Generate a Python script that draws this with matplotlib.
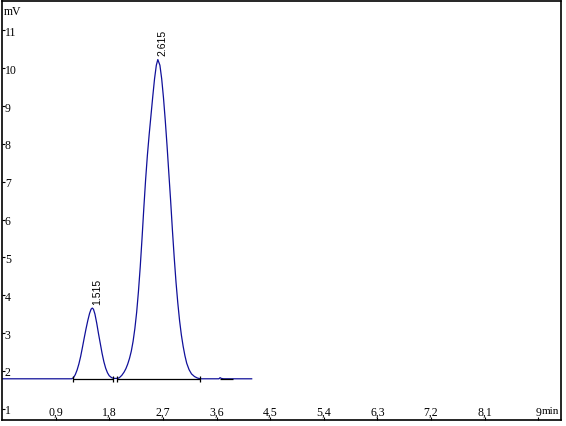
import matplotlib
matplotlib.use("Agg")
import matplotlib.pyplot as plt

# ─── chromatogram trace (min, mV) ────────────────────────────────────────────
time_min = [
    0.00, 1.17, 1.20, 1.23, 1.26, 1.29, 1.32, 1.35, 1.38, 1.41, 1.44, 1.47,
    1.495, 1.515, 1.535, 1.56, 1.59, 1.62, 1.65, 1.68, 1.71, 1.74, 1.77, 1.80,
    1.84, 1.88, 1.94, 1.97, 2.01, 2.05, 2.08, 2.11, 2.14, 2.17, 2.20, 2.23,
    2.26, 2.29, 2.32, 2.35, 2.38, 2.41, 2.44, 2.47, 2.50, 2.53, 2.56, 2.59,
    2.615, 2.65, 2.68, 2.71, 2.74, 2.77, 2.80, 2.83, 2.86, 2.89, 2.92, 2.95,
    2.98, 3.01, 3.04, 3.07, 3.10, 3.14, 3.18, 3.23, 3.28, 3.33, 3.64, 3.66,
    3.68, 3.72, 4.19,
]
signal_mv = [
    1.79, 1.79, 1.82, 1.90, 2.02, 2.18, 2.38, 2.62, 2.87, 3.11, 3.33, 3.52,
    3.63, 3.66, 3.63, 3.50, 3.26, 2.98, 2.72, 2.46, 2.24, 2.07, 1.95, 1.87,
    1.82, 1.80, 1.80, 1.82, 1.88, 1.97, 2.06, 2.18, 2.33, 2.52, 2.78, 3.12,
    3.55, 4.10, 4.75, 5.50, 6.30, 7.05, 7.70, 8.25, 8.75, 9.25, 9.72, 10.08,
    10.23, 10.08, 9.72, 9.22, 8.62, 7.95, 7.22, 6.50, 5.72, 5.00, 4.35, 3.80,
    3.33, 2.95, 2.65, 2.40, 2.20, 2.03, 1.92, 1.85, 1.81, 1.79, 1.79, 1.82,
    1.80, 1.79, 1.79,
]

# integration baselines (start, end) and their level
base_start = [1.19, 1.925, 3.66]
base_end = [1.87, 3.32, 3.88]
base_level = 1.79
marker_times = [1.19, 1.87, 1.925, 3.32]

# peak apex labels
peak_times = [1.515, 2.615]
peak_heights = [3.66, 10.23]
peak_labels = ["1.515", "2.615"]

x_ticks = [0.9, 1.8, 2.7, 3.6, 4.5, 5.4, 6.3, 7.2, 8.1, 9.0]
x_ticklabels = ["0,9", "1,8", "2,7", "3,6", "4,5", "5,4", "6,3", "7,2", "8,1", "9"]
y_ticks = [1, 2, 3, 4, 5, 6, 7, 8, 9, 10, 11]

# ─── figure ──────────────────────────────────────────────────────────────────
fig = plt.figure(figsize=(5.66, 4.27), dpi=100)
ax = fig.add_axes([0.0035, 0.014, 0.9876, 0.9806])

ax.plot(time_min, signal_mv, color="#10109a", lw=0.9, zorder=2)
ax.hlines([base_level] * len(base_start), base_start, base_end,
          color="black", lw=0.9, zorder=3)
ax.vlines(marker_times, base_level - 0.08, base_level + 0.08,
          color="black", lw=0.9, zorder=3)

for t, h, lab in zip(peak_times, peak_heights, peak_labels):
    ax.text(t, h + 0.12, lab, rotation=90, ha="left", va="bottom",
            fontsize=7.5, family="Liberation Sans", color="black")

ax.set_xlim(0, 9.38)
ax.set_ylim(0.70, 11.77)

ax.set_xticks(x_ticks)
ax.set_xticklabels(x_ticklabels)
ax.set_yticks(y_ticks)

for lab in ax.get_xticklabels() + ax.get_yticklabels():
    lab.set_family("Liberation Serif")
    lab.set_fontsize(8.5)
for lab in ax.get_xticklabels():
    lab.set_va("bottom")
for lab in ax.get_yticklabels():
    lab.set_ha("left")

ax.tick_params(axis="x", direction="in", length=2, width=0.8, pad=-1.5)
ax.tick_params(axis="y", direction="in", length=2.5, width=0.8, pad=-2.0)

for sp in ax.spines.values():
    sp.set_linewidth(1.2)

ax.text(0.004, 0.977, "mV", transform=ax.transAxes, ha="left", va="center",
        fontsize=8.5, family="Liberation Serif")
ax.text(0.965, 0.017, "min", transform=ax.transAxes, ha="left", va="baseline",
        fontsize=8, family="Liberation Serif")

fig.savefig("out.png", dpi=100)
